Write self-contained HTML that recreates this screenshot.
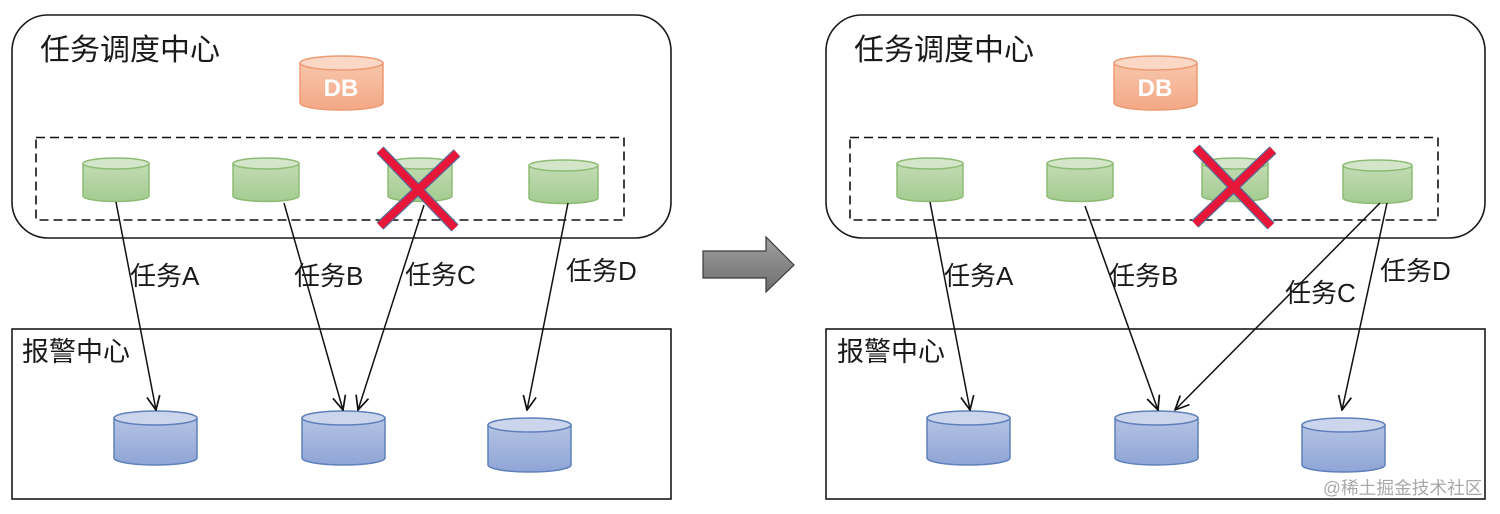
<!DOCTYPE html>
<html><head><meta charset="utf-8"><style>
html,body{margin:0;padding:0;background:#fff}
svg{display:block}
text{font-family:"Liberation Sans","Noto Sans CJK SC",sans-serif;fill:#1a1a1a}
</style></head><body>
<svg width="1500" height="514" viewBox="0 0 1500 514" xmlns="http://www.w3.org/2000/svg">
<defs>
<linearGradient id="g" x1="0" y1="0" x2="0" y2="1"><stop offset="0" stop-color="#c2dcb4"/><stop offset="1" stop-color="#a4cb90"/></linearGradient>
<linearGradient id="b" x1="0" y1="0" x2="0" y2="1"><stop offset="0" stop-color="#b4c3e4"/><stop offset="1" stop-color="#8fa5d6"/></linearGradient>
<linearGradient id="o" x1="0" y1="0" x2="0" y2="1"><stop offset="0" stop-color="#f8c6ab"/><stop offset="1" stop-color="#f3a886"/></linearGradient>
<linearGradient id="a" x1="0" y1="0" x2="0" y2="1"><stop offset="0" stop-color="#a0a0a0"/><stop offset="1" stop-color="#6e6e6e"/></linearGradient>
<marker id="m" viewBox="0 0 16 16" refX="15" refY="8" markerWidth="16" markerHeight="16" orient="auto" markerUnits="userSpaceOnUse"><path d="M1 1.500L15 8L1 14.500" fill="none" stroke="#111" stroke-width="1.700"/></marker>
</defs>

<!-- LEFT -->
<rect x="12" y="15" width="659" height="223" rx="36" fill="#fff" stroke="#1a1a1a" stroke-width="1.600"/>
<text x="40" y="60" font-size="30">任务调度中心</text>
<rect x="36" y="137.500" width="588" height="82.500" fill="none" stroke="#111" stroke-width="1.600" stroke-dasharray="9 5"/>
<rect x="12" y="329" width="659" height="170" fill="#fff" stroke="#1a1a1a" stroke-width="1.600"/>
<text x="22" y="361" font-size="27">报警中心</text>

<path d="M300 63V103A41.500 7 0 0 0 383 103V63Z" fill="url(#o)" stroke="#ee9a72" stroke-width="1.500"/>
<ellipse cx="341.500" cy="63" rx="41.500" ry="7" fill="#fbd8c6" stroke="#ee9a72" stroke-width="1.500"/>
<text x="341" y="96" font-size="24" font-weight="700" text-anchor="middle" style="fill:#fff">DB</text>

<path d="M83 163.500V196A33 5.500 0 0 0 149 196V163.500Z" fill="url(#g)" stroke="#8dbb74" stroke-width="1.500"/>
<ellipse cx="116" cy="163.500" rx="33" ry="5.500" fill="#d3e6c9" stroke="#8dbb74" stroke-width="1.500"/>
<path d="M233 163.500V196A33 5.500 0 0 0 299 196V163.500Z" fill="url(#g)" stroke="#8dbb74" stroke-width="1.500"/>
<ellipse cx="266" cy="163.500" rx="33" ry="5.500" fill="#d3e6c9" stroke="#8dbb74" stroke-width="1.500"/>
<path d="M388 163.500V196A32 5.500 0 0 0 452 196V163.500Z" fill="url(#g)" stroke="#8dbb74" stroke-width="1.500"/>
<ellipse cx="420" cy="163.500" rx="32" ry="5.500" fill="#d3e6c9" stroke="#8dbb74" stroke-width="1.500"/>
<path d="M529 165.500V198A34.500 5.500 0 0 0 598 198V165.500Z" fill="url(#g)" stroke="#8dbb74" stroke-width="1.500"/>
<ellipse cx="563.500" cy="165.500" rx="34.500" ry="5.500" fill="#d3e6c9" stroke="#8dbb74" stroke-width="1.500"/>

<path d="M114 418V458A41.500 7 0 0 0 197 458V418Z" fill="url(#b)" stroke="#5f80bb" stroke-width="1.500"/>
<ellipse cx="155.500" cy="418" rx="41.500" ry="7" fill="#cbd5ec" stroke="#5f80bb" stroke-width="1.500"/>
<path d="M302 418V458A41.500 7 0 0 0 385 458V418Z" fill="url(#b)" stroke="#5f80bb" stroke-width="1.500"/>
<ellipse cx="343.500" cy="418" rx="41.500" ry="7" fill="#cbd5ec" stroke="#5f80bb" stroke-width="1.500"/>
<path d="M488 425V465A41.500 7 0 0 0 571 465V425Z" fill="url(#b)" stroke="#5f80bb" stroke-width="1.500"/>
<ellipse cx="529.500" cy="425" rx="41.500" ry="7" fill="#cbd5ec" stroke="#5f80bb" stroke-width="1.500"/>

<g stroke="#5a6a96" stroke-width="10"><path d="M380 150L455 228"/><path d="M457 153L380 226"/></g>
<g stroke="#e8173a" stroke-width="7.500"><path d="M380 150L455 228"/><path d="M457 153L380 226"/></g>

<g stroke="#111" stroke-width="1.500" fill="none">
<path d="M116 202L156 410" marker-end="url(#m)"/>
<path d="M284 203L343 410" marker-end="url(#m)"/>
<path d="M424 205L358 410" marker-end="url(#m)"/>
<path d="M568 203L527 410" marker-end="url(#m)"/>
</g>
<text x="130" y="285" font-size="26">任务A</text>
<text x="294" y="285" font-size="26">任务B</text>
<text x="405" y="284" font-size="26">任务C</text>
<text x="566" y="280" font-size="26">任务D</text>

<!-- ARROW -->
<path d="M703 251H766V237L794 265L766 292V278H703Z" fill="url(#a)" stroke="#3a3a3a" stroke-width="1.200"/>

<!-- RIGHT -->
<rect x="826" y="15" width="659" height="223" rx="36" fill="#fff" stroke="#1a1a1a" stroke-width="1.600"/>
<text x="854" y="60" font-size="30">任务调度中心</text>
<rect x="850" y="137.500" width="588" height="82.500" fill="none" stroke="#111" stroke-width="1.600" stroke-dasharray="9 5"/>
<rect x="826" y="329" width="659" height="170" fill="#fff" stroke="#1a1a1a" stroke-width="1.600"/>
<text x="837" y="361" font-size="27">报警中心</text>

<path d="M1114 63V103A41.500 7 0 0 0 1197 103V63Z" fill="url(#o)" stroke="#ee9a72" stroke-width="1.500"/>
<ellipse cx="1155.500" cy="63" rx="41.500" ry="7" fill="#fbd8c6" stroke="#ee9a72" stroke-width="1.500"/>
<text x="1155" y="96" font-size="24" font-weight="700" text-anchor="middle" style="fill:#fff">DB</text>

<path d="M897 163.500V196A33 5.500 0 0 0 963 196V163.500Z" fill="url(#g)" stroke="#8dbb74" stroke-width="1.500"/>
<ellipse cx="930" cy="163.500" rx="33" ry="5.500" fill="#d3e6c9" stroke="#8dbb74" stroke-width="1.500"/>
<path d="M1047 163.500V196A33 5.500 0 0 0 1113 196V163.500Z" fill="url(#g)" stroke="#8dbb74" stroke-width="1.500"/>
<ellipse cx="1080" cy="163.500" rx="33" ry="5.500" fill="#d3e6c9" stroke="#8dbb74" stroke-width="1.500"/>
<path d="M1202 163.500V196A33 5.500 0 0 0 1268 196V163.500Z" fill="url(#g)" stroke="#8dbb74" stroke-width="1.500"/>
<ellipse cx="1235" cy="163.500" rx="33" ry="5.500" fill="#d3e6c9" stroke="#8dbb74" stroke-width="1.500"/>
<path d="M1343 165.500V198A34.500 5.500 0 0 0 1412 198V165.500Z" fill="url(#g)" stroke="#8dbb74" stroke-width="1.500"/>
<ellipse cx="1377.500" cy="165.500" rx="34.500" ry="5.500" fill="#d3e6c9" stroke="#8dbb74" stroke-width="1.500"/>

<path d="M927 418V458A41.500 7 0 0 0 1010 458V418Z" fill="url(#b)" stroke="#5f80bb" stroke-width="1.500"/>
<ellipse cx="968.500" cy="418" rx="41.500" ry="7" fill="#cbd5ec" stroke="#5f80bb" stroke-width="1.500"/>
<path d="M1115 418V458A41.500 7 0 0 0 1198 458V418Z" fill="url(#b)" stroke="#5f80bb" stroke-width="1.500"/>
<ellipse cx="1156.500" cy="418" rx="41.500" ry="7" fill="#cbd5ec" stroke="#5f80bb" stroke-width="1.500"/>
<path d="M1302 425V465A41.500 7 0 0 0 1385 465V425Z" fill="url(#b)" stroke="#5f80bb" stroke-width="1.500"/>
<ellipse cx="1343.500" cy="425" rx="41.500" ry="7" fill="#cbd5ec" stroke="#5f80bb" stroke-width="1.500"/>

<g stroke="#5a6a96" stroke-width="10"><path d="M1196 148L1271 226"/><path d="M1273 150L1195 224"/></g>
<g stroke="#e8173a" stroke-width="7.500"><path d="M1196 148L1271 226"/><path d="M1273 150L1195 224"/></g>

<g stroke="#111" stroke-width="1.500" fill="none">
<path d="M930 202L970 410" marker-end="url(#m)"/>
<path d="M1085 206L1158 410" marker-end="url(#m)"/>
<path d="M1380 203L1175 410" marker-end="url(#m)"/>
<path d="M1387 203L1342 410" marker-end="url(#m)"/>
</g>
<text x="944" y="285" font-size="26">任务A</text>
<text x="1109" y="285" font-size="26">任务B</text>
<text x="1285" y="302" font-size="26">任务C</text>
<text x="1380" y="280" font-size="26">任务D</text>

<text x="1323" y="494" font-size="17.700" style="fill:#a8a8a8">@稀土掘金技术社区</text>
</svg>
</body></html>
